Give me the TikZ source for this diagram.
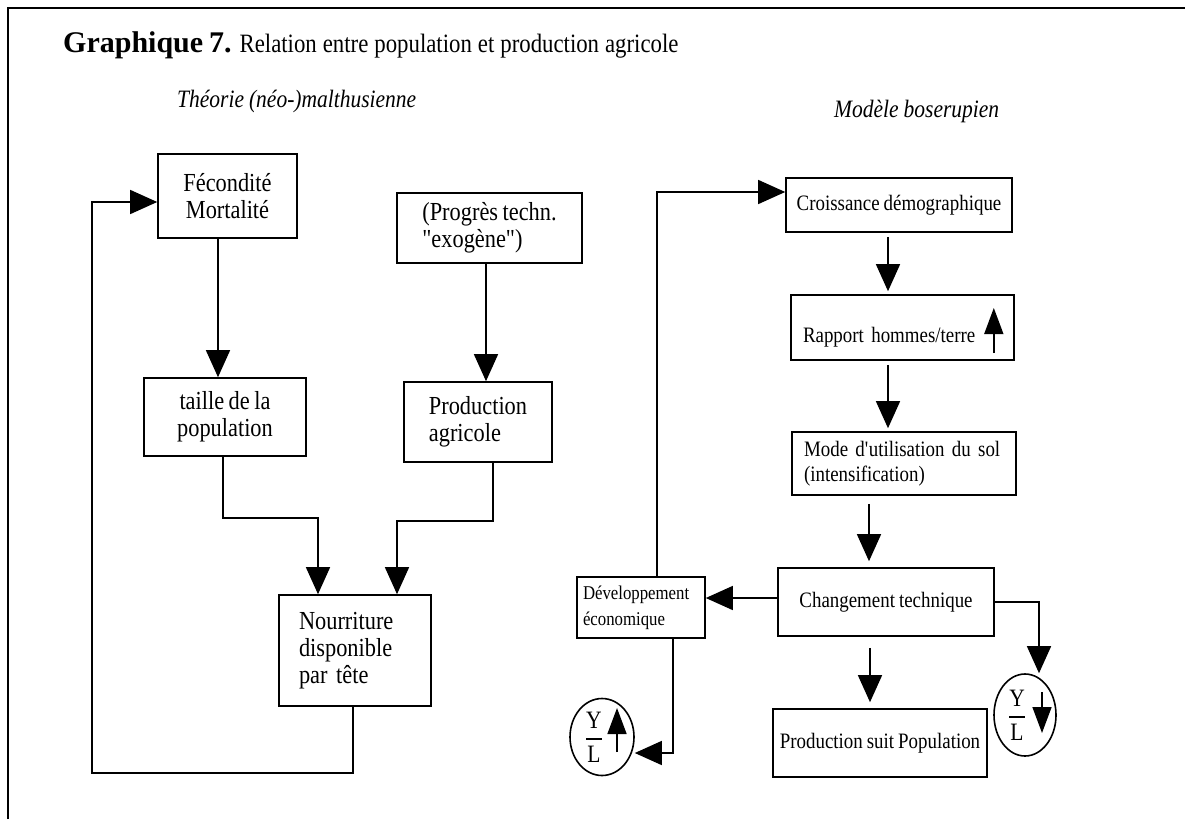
\documentclass[tikz,border=0pt]{standalone}
\usepackage{fontspec}
\setmainfont{Liberation Serif}
\newfontfamily\lfont[FakeStretch=0.86]{Liberation Serif}
\usetikzlibrary{arrows.meta,shapes.geometric,calc}
\begin{document}
\begin{tikzpicture}[x=1pt,y=-1pt,
  box/.style={draw, line width=1.6pt, inner sep=2pt},
  lbox/.style={box, font={\lfont\fontsize{26}{27}\selectfont\spaceskip=4.5pt plus 1pt minus 1pt\relax}},
  rbox/.style={box, font={\lfont\fontsize{22}{25}\selectfont\spaceskip=4pt plus 1pt minus 1pt\relax}},
  conn/.style={line width=1.4pt},
  arr/.style={conn, -{Triangle[width=24pt,length=27pt]}},
  sarr/.style={line width=1.6pt, -{Triangle[width=19pt,length=26pt]}},
  oval/.style={draw, ellipse, line width=1.6pt, inner sep=0pt},
  frac/.style={font=\lfont\fontsize{25}{27}\selectfont, inner sep=0pt},
  heading/.style={font={\lfont\fontsize{25}{27}\selectfont\itshape\spaceskip=5pt\relax}, anchor=base west, inner sep=0pt}
]
\useasboundingbox (0,0) rectangle (1185,819);
\draw[line width=2.5pt] (8,819) -- (8,8) -- (1185,8);

% titles
\node[anchor=base west, inner sep=0pt, font={\lfont\fontsize{26.5}{30}\selectfont\spaceskip=6pt plus 1pt\relax}] (title) at (63,52)
  {{\rmfamily\fontsize{30}{34}\selectfont\bfseries Graphique 7.} Relation entre population et production agricole};
\node[heading] (tl) at (177,107) {Théorie (néo-)malthusienne};
\node[heading] (tr) at (834,117) {Modèle boserupien};

% left diagram
\node[lbox, minimum width=139pt, minimum height=84pt, align=center] (fec) at (227.5,196) {Fécondité\\Mortalité};
\node[lbox, minimum width=185pt, minimum height=70pt, align=left] (prog) at (489.5,228) {(Progrès techn.\\"exogène")};
\node[lbox, minimum width=162pt, minimum height=78pt, align=center] (taille) at (225,417) {taille de la\\population};
\node[lbox, minimum width=148pt, minimum height=80pt, align=left] (prod) at (478,422) {Production\\agricole};
\node[lbox, minimum width=152pt, minimum height=111pt, text width=112pt, align=left] (nour) at (355,650.5) {Nourriture\\disponible\\par tête};

\coordinate (j1) at (318,518);
\coordinate (j2) at (397,521);
\coordinate (b1) at (92,773);

\draw[arr] ([xshift=-9.5pt]fec.south) -- ([xshift=-9.5pt]fec.south |- taille.north);
\draw[arr] ([xshift=-3.5pt]prog.south) -- ([xshift=-3.5pt]prog.south |- prod.north);
\draw[arr] ([xshift=-2pt]taille.south) |- (j1) -- (j1 |- nour.north);
\draw[arr] ([xshift=15pt]prod.south) |- (j2) -- (j2 |- nour.north);
\draw[arr] ([xshift=-2pt]nour.south) |- (b1) |- ([yshift=-6pt]fec.west);

% right diagram
\node[rbox, minimum width=226pt, minimum height=54pt] (croi) at (899,205) {Croissance démographique};
\node[rbox, minimum width=223pt, minimum height=65pt, text width=199pt, align=left, text height=34pt, text depth=4pt] (rapp) at (902.5,327.5) {Rapport hommes/terre};
\node[rbox, minimum width=224pt, minimum height=63pt, text width=200pt, align=left] (mode) at (904,463.5) {Mode d\textquotesingle utilisation du sol\\(intensification)};
\node[rbox, minimum width=216pt, minimum height=68pt] (chg) at (886,602) {Changement technique};
\node[box, minimum width=128pt, minimum height=61pt, text width=116pt, align=left, font=\lfont\fontsize{19.5}{26}\selectfont] (dev) at (641,607.5) {Développement\\économique};
\node[rbox, minimum width=214pt, minimum height=68pt] (pp) at (880,743) {Production suit Population};
\node[oval, minimum width=64pt, minimum height=77pt] (c1) at (602,737) {};
\node[oval, minimum width=62pt, minimum height=82pt] (c2) at (1025,715) {};
\node[frac] (f1) at (594,737) {$\displaystyle{\mbox{Y}\above1.5pt\mbox{L}}$};
\node[frac] (f2) at (1017,715) {$\displaystyle{\mbox{Y}\above1.5pt\mbox{L}}$};

\draw[sarr] ($(rapp.east)+(-21,25.5)$) -- ($(rapp.east)+(-21,-19.5)$);
\draw[sarr] ($(c1.center)+(15,15)$) -- ($(c1.center)+(15,-29)$);
\draw[sarr] ($(c2.center)+(17,-23)$) -- ($(c2.center)+(17,18)$);

\draw[arr, shorten <=4pt, shorten >=3pt] ([xshift=-11pt]croi.south) -- ([xshift=-11pt]croi.south |- rapp.north);
\draw[arr, shorten <=4pt, shorten >=3pt] ([xshift=-14.5pt]rapp.south) -- ([xshift=-14.5pt]rapp.south |- mode.north);
\draw[arr, shorten <=8pt, shorten >=6pt] ([xshift=-35pt]mode.south) -- ([xshift=-35pt]mode.south |- chg.north);
\draw[arr, shorten <=11pt, shorten >=6pt] ([xshift=-16pt]chg.south) -- ([xshift=-16pt]chg.south |- pp.north);
\draw[arr] ([yshift=4pt]chg.west) -- ([yshift=4pt]chg.west -| dev.east);
\draw[arr] (chg.east) -| ([xshift=14pt]c2.north);
\draw[arr] ([xshift=32pt]dev.south) |- ([yshift=-16pt]c1.east);
\draw[arr] ([xshift=16pt]dev.north) |- ([yshift=13pt]croi.west);
\end{tikzpicture}
\end{document}
